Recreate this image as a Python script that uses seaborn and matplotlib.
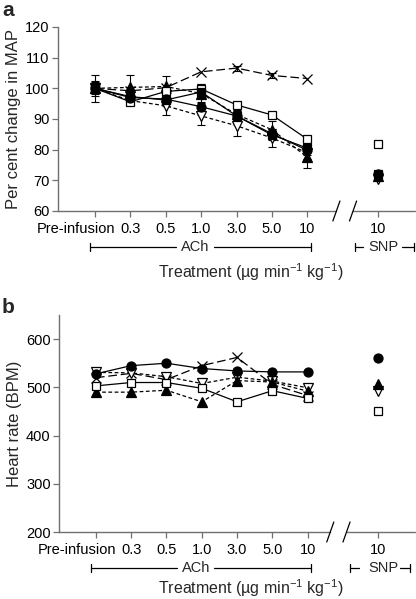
import numpy as np
import pandas as pd
import matplotlib
matplotlib.use("Agg")
import matplotlib.pyplot as plt
import matplotlib.transforms as mtransforms
import seaborn as sns

# ---------------- data ----------------
x_labels = ["Pre-infusion", "0.3", "0.5", "1.0", "3.0", "5.0", "10"]
snp_label = "10"

# Panel a: per cent change in MAP
map_circle = [100, 97.0, 96.5, 94.0, 91.0, 85.2, 79.8]
map_circle_err = [2.0, 1.5, 1.5, 1.5, 1.5, 1.5, 1.5]
map_circle_snp = 72.0

map_triup = [100, 100.3, 100.6, 98.3, 91.5, 86.5, 77.5]
map_triup_err = [4.5, 4.0, 3.5, 3.0, 1.5, 3.0, 3.5]
map_triup_snp = 71.5

map_sqfill = [100, 97.3, 96.2, 98.8, 91.0, 84.8, 80.5]
map_sqfill_err = [2.5, 2.0, 2.0, 2.0, 1.5, 1.5, 1.5]
map_sqfill_snp = 72.2

map_sqopen = [100, 95.6, 99.0, 99.8, 94.6, 91.3, 83.4]
map_sqopen_err = [1.5, 1.0, 1.5, 1.5, 1.0, 1.0, 1.0]
map_sqopen_snp = 81.7

map_tridown = [100, 96.0, 94.3, 91.0, 87.8, 83.8, 79.0]
map_tridown_err = [1.5, 1.0, 3.0, 3.0, 3.5, 3.0, 2.0]
map_tridown_snp = 70.5

map_cross = [100, 99.2, 100.2, 105.4, 106.6, 104.2, 103.2]
map_cross_err = [0.0, 0.0, 0.0, 0.0, 0.8, 0.8, 0.0]

# Panel b: heart rate (BPM)
hr_circle = [528, 545, 550, 539, 534, 532, 532]
hr_circle_snp = 560
hr_triup = [490, 490, 494, 470, 514, 511, 492]
hr_triup_snp = 507
hr_sqopen = [503, 510, 510, 498, 470, 493, 477]
hr_sqopen_snp = 450
hr_tridown = [531, 530, 522, 508, 521, 513, 499]
hr_tridown_snp = 493
hr_cross = [520, 529, 516, 545, 562, 506, 483]

# ---------------- style ----------------
sns.set_theme(style="ticks")
plt.rcParams["font.family"] = ["Liberation Sans", "DejaVu Sans"]
plt.rcParams["mathtext.fontset"] = "custom"
plt.rcParams["mathtext.rm"] = "Liberation Sans"

SPINE = "#707070"
W, H = 416, 599
fig = plt.figure(figsize=(W / 100, H / 100), dpi=100)

ax_a = fig.add_axes([58 / W, 1 - 211 / H, 357 / W, 184 / H])
ax_b = fig.add_axes([59 / W, 1 - 532 / H, 356 / W, 217 / H])

xpos = np.arange(len(x_labels))
snp_x = len(x_labels) + 1

SHORT = (3, 2)
LONG = (7, 3)


def series(ax, vals, marker, fc, ls, ms, err=None, snp=None, mew=0.9):
    df = pd.DataFrame({"x": xpos, "y": vals})
    kw = dict(color="black", linewidth=0.9, marker=marker, markersize=ms,
              markerfacecolor=fc, markeredgecolor="black", markeredgewidth=mew)
    if ls == "solid":
        sns.lineplot(data=df, x="x", y="y", ax=ax, linestyle="-", **kw)
    else:
        sns.lineplot(data=df, x="x", y="y", ax=ax, dashes=False, **kw)
        ax.lines[-1].set_dashes(ls)
    if err is not None:
        e = np.array(err)
        m = e > 0
        ax.errorbar(xpos[m], np.array(vals)[m], yerr=e[m], fmt="none",
                    ecolor="black", elinewidth=0.8, capsize=3, capthick=0.8,
                    zorder=1)
    if snp is not None:
        ax.plot([snp_x], [snp], marker=marker, markersize=ms, linestyle="none",
                markerfacecolor=fc, markeredgecolor="black", markeredgewidth=mew)


# panel a
series(ax_a, map_cross, "x", "none", LONG, 7, map_cross_err)
series(ax_a, map_tridown, "v", "white", SHORT, 6.5, map_tridown_err, map_tridown_snp)
series(ax_a, map_triup, "^", "black", SHORT, 6.5, map_triup_err, map_triup_snp)
series(ax_a, map_sqopen, "s", "white", "solid", 5.5, map_sqopen_err, map_sqopen_snp)
series(ax_a, map_circle, "o", "black", "solid", 6.5, map_circle_err, map_circle_snp)
series(ax_a, map_sqfill, "s", "black", "solid", 6, map_sqfill_err, map_sqfill_snp)

# panel b
series(ax_b, hr_cross, "x", "none", LONG, 7)
series(ax_b, hr_tridown, "v", "white", SHORT, 6.5, None, hr_tridown_snp)
series(ax_b, hr_triup, "^", "black", SHORT, 6.5, None, hr_triup_snp)
series(ax_b, hr_sqopen, "s", "white", "solid", 6, None, hr_sqopen_snp)
series(ax_b, hr_circle, "o", "black", "solid", 6.5, None, hr_circle_snp)


def decorate(ax, w_px, h_px, ylim, yticks, ylabel, brk, label_off, treat_off, snp_lines):
    ax.set_xlim(-1.045, 9.04)
    ax.set_ylim(*ylim)
    ax.set_yticks(yticks)
    ax.set_xticks(list(xpos) + [snp_x])
    ax.set_xticklabels(x_labels + [snp_label])
    ax.tick_params(axis="both", direction="out", length=4, width=0.9,
                   color=SPINE, labelsize=10.5, labelcolor="black", pad=2)
    ax.tick_params(axis="x", pad=4)
    # shift "Pre-infusion" label left
    lab0 = ax.get_xticklabels()[0]
    lab0.set_transform(lab0.get_transform() +
                       mtransforms.ScaledTranslation(-19 / 100, 0, fig.dpi_scale_trans))
    ax.set_xlabel("")
    ax.set_ylabel(ylabel, fontsize=12)
    ax.yaxis.set_label_coords(-37 / w_px, 0.5)
    for s in ["top", "right", "bottom"]:
        ax.spines[s].set_visible(False)
    ax.spines["left"].set_color(SPINE)
    ax.spines["left"].set_linewidth(1.0)
    tr = ax.get_xaxis_transform()
    b1, b2 = brk
    ax.plot([-1.045, b1], [0, 0], transform=tr, color=SPINE, lw=1.0, clip_on=False)
    ax.plot([b2, 9.04], [0, 0], transform=tr, color=SPINE, lw=1.0, clip_on=False)
    hh = 10 / h_px
    dd = 0.1
    for b in brk:
        ax.plot([b - dd, b + dd], [-hh, hh], transform=tr, color="black",
                lw=0.9, clip_on=False)
    # ACh bracket
    yb = -label_off / h_px
    cap = 4 / h_px
    ax.plot([-0.14, 2.3], [yb, yb], transform=tr, color="black", lw=0.9, clip_on=False)
    ax.plot([3.35, 6.1], [yb, yb], transform=tr, color="black", lw=0.9, clip_on=False)
    for xx in (-0.14, 6.1):
        ax.plot([xx, xx], [yb - cap, yb + cap], transform=tr, color="black",
                lw=0.9, clip_on=False)
    ax.text(2.83, yb, "ACh", transform=tr, ha="center", va="center", fontsize=10.5)
    # SNP bracket
    s0, s1, s2, s3 = snp_lines
    ax.plot([s0, s1], [yb, yb], transform=tr, color="black", lw=0.9, clip_on=False)
    ax.plot([s2, s3], [yb, yb], transform=tr, color="black", lw=0.9, clip_on=False)
    for xx in (s0, s3):
        ax.plot([xx, xx], [yb - cap, yb + cap], transform=tr, color="black",
                lw=0.9, clip_on=False)
    ax.text(8.14, yb, "SNP", transform=tr, ha="center", va="center", fontsize=10.5)
    ax.text(4.4, -treat_off / h_px, r"Treatment (µg min$^{-1}$ kg$^{-1}$)",
            transform=tr, ha="center", va="center", fontsize=11.5)


decorate(ax_a, 357, 184, (60, 120), np.arange(60, 121, 10), "Per cent change in MAP",
         (6.82, 7.29), 36, 61, (7.34, 7.58, 8.68, 9.0))
decorate(ax_b, 356, 217, (200, 650), np.arange(200, 601, 100), "Heart rate (BPM)",
         (6.64, 7.1), 36, 56, (7.2, 7.45, 8.62, 8.9))

fig.text(2 / W, 1 - 1 / H, "a", fontsize=15, fontweight="bold", ha="left", va="top")
fig.text(2 / W, 1 - 298 / H, "b", fontsize=15, fontweight="bold", ha="left", va="top")

fig.savefig("out.png", dpi=100)
